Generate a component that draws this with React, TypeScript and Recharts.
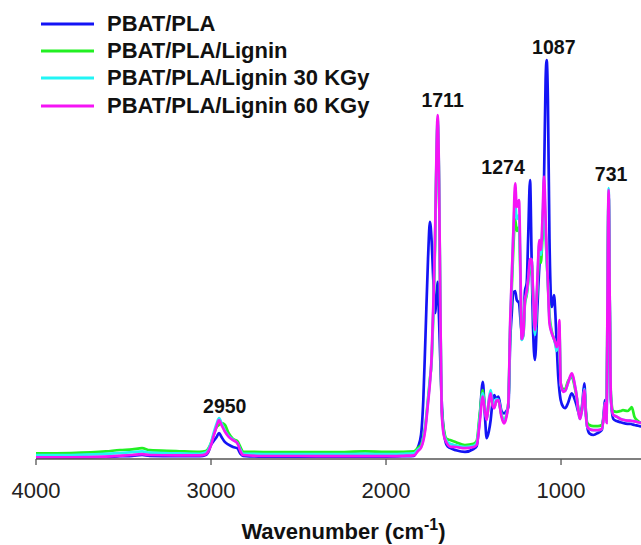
import { LineChart, Line, XAxis, YAxis, Legend, Label, ReferenceDot } from 'recharts';

// wavenumber (cm-1) from left to right
const wavenumbers = [
  4000, 3800, 3600, 3520, 3450, 3394, 3350, 3200, 3063, 3030, 3017, 3000, 2985, 2968, 2954, 2940, 2920, 2900, 2874, 2850, 2830, 2817, 2700, 2500, 2300, 2120, 2000, 1900, 1840,
  1817, 1800, 1787, 1775, 1760, 1749, 1740, 1730, 1720, 1711, 1705, 1697, 1690, 1682, 1670, 1653,
  1634, 1600, 1549, 1500, 1482, 1465, 1447, 1435, 1425, 1412, 1402, 1392, 1381, 1370, 1358, 1340, 1326, 1312, 1301,
  1290, 1282, 1273, 1262, 1253, 1240, 1232, 1225, 1215, 1206, 1196, 1188, 1177, 1168, 1160, 1149, 1135, 1124, 1115, 1106, 1097, 1088, 1082, 1075, 1066, 1053, 1040, 1032, 1025, 1015, 1010, 1002,
  987, 977, 960, 939, 915, 891, 878, 867, 858, 850, 838, 815, 790, 767, 755, 749, 740, 735, 728, 722, 715, 701, 682, 660, 646, 620, 606, 596, 580, 560, 543,
];

const pbatPla = [
  0.004, 0.004, 0.005, 0.007, 0.008, 0.01, 0.008, 0.007, 0.007, 0.01, 0.016, 0.035, 0.045, 0.055, 0.065, 0.055, 0.042, 0.036, 0.03, 0.027, 0.012, 0.008, 0.006, 0.006, 0.006, 0.006, 0.006, 0.007, 0.008,
  0.03, 0.06, 0.147, 0.3, 0.5, 0.593, 0.55, 0.45, 0.365, 0.41, 0.443, 0.35, 0.25, 0.147, 0.07, 0.035,
  0.0275, 0.022, 0.018, 0.025, 0.0325, 0.1, 0.193, 0.11, 0.052, 0.07, 0.0975, 0.14, 0.16, 0.15, 0.156, 0.12, 0.114, 0.12, 0.13,
  0.3, 0.36, 0.415, 0.42, 0.3975, 0.39, 0.35, 0.318, 0.33, 0.42, 0.44, 0.55, 0.6975, 0.5, 0.33, 0.2475, 0.38, 0.48, 0.53, 0.56, 0.7, 0.95, 0.9975, 0.9, 0.55, 0.38, 0.41, 0.36, 0.289, 0.2, 0.175, 0.1475,
  0.13, 0.127, 0.14, 0.164, 0.14, 0.106, 0.14, 0.189, 0.12, 0.08, 0.064, 0.06, 0.065, 0.0725, 0.12, 0.1475, 0.1, 0.3, 0.66, 0.4, 0.15, 0.1, 0.095, 0.092, 0.09, 0.088, 0.088, 0.087, 0.085, 0.083, 0.081,
];

const pbatPlaLignin = [
  0.014, 0.015, 0.019, 0.0225, 0.024, 0.027, 0.022, 0.02, 0.018, 0.02, 0.025, 0.04, 0.06, 0.08, 0.085, 0.09, 0.085, 0.065, 0.05, 0.045, 0.028, 0.018, 0.0175, 0.0175, 0.017, 0.019, 0.018, 0.018, 0.019,
  0.028, 0.035, 0.055, 0.085, 0.15, 0.2, 0.24, 0.36, 0.53, 0.76, 0.84, 0.69, 0.39, 0.13, 0.075, 0.05,
  0.0475, 0.042, 0.035, 0.038, 0.045, 0.11, 0.1725, 0.13, 0.1, 0.14, 0.165, 0.14, 0.13, 0.145, 0.145, 0.11, 0.095, 0.11, 0.14,
  0.33, 0.42, 0.52, 0.6, 0.57, 0.58, 0.45, 0.3, 0.31, 0.39, 0.41, 0.44, 0.48, 0.49, 0.41, 0.315, 0.43, 0.52, 0.49, 0.56, 0.66, 0.56, 0.5, 0.44, 0.36, 0.32, 0.3, 0.29, 0.275, 0.3, 0.33, 0.19,
  0.175, 0.175, 0.195, 0.205, 0.165, 0.11, 0.13, 0.17, 0.115, 0.09, 0.085, 0.082, 0.082, 0.085, 0.11, 0.135, 0.1, 0.35, 0.66, 0.4, 0.16, 0.12, 0.118, 0.12, 0.122, 0.12, 0.125, 0.13, 0.105, 0.095, 0.09,
];

const lignin30 = [
  0.01, 0.01, 0.013, 0.015, 0.017, 0.019, 0.016, 0.014, 0.013, 0.016, 0.022, 0.04, 0.065, 0.088, 0.102, 0.09, 0.07, 0.058, 0.048, 0.04, 0.022, 0.013, 0.0125, 0.0125, 0.012, 0.013, 0.012, 0.013, 0.014,
  0.024, 0.03, 0.05, 0.08, 0.145, 0.195, 0.245, 0.37, 0.54, 0.77, 0.85, 0.695, 0.395, 0.125, 0.065, 0.045,
  0.038, 0.034, 0.03, 0.033, 0.04, 0.1, 0.165, 0.125, 0.1, 0.15, 0.1725, 0.145, 0.13, 0.15, 0.148, 0.11, 0.092, 0.11, 0.14,
  0.34, 0.44, 0.56, 0.64, 0.6, 0.61, 0.47, 0.2975, 0.31, 0.395, 0.415, 0.445, 0.49, 0.5, 0.415, 0.31, 0.44, 0.54, 0.51, 0.58, 0.68, 0.57, 0.5, 0.44, 0.35, 0.315, 0.3, 0.285, 0.27, 0.3, 0.335, 0.185,
  0.17, 0.17, 0.19, 0.21, 0.17, 0.1, 0.128, 0.175, 0.11, 0.08, 0.075, 0.072, 0.072, 0.075, 0.11, 0.14, 0.095, 0.36, 0.6775, 0.41, 0.15, 0.11, 0.106, 0.1, 0.098, 0.096, 0.096, 0.095, 0.094, 0.092, 0.09,
];

const lignin60 = [
  0.004, 0.004, 0.006, 0.008, 0.01, 0.012, 0.01, 0.009, 0.009, 0.012, 0.018, 0.035, 0.058, 0.082, 0.097, 0.085, 0.068, 0.056, 0.047, 0.04, 0.018, 0.01, 0.0075, 0.0075, 0.007, 0.007, 0.007, 0.008, 0.009,
  0.02, 0.028, 0.045, 0.075, 0.14, 0.19, 0.25, 0.38, 0.55, 0.78, 0.86, 0.7, 0.4, 0.12, 0.06, 0.04,
  0.031, 0.03, 0.027, 0.03, 0.035, 0.09, 0.156, 0.12, 0.0975, 0.145, 0.164, 0.135, 0.127, 0.145, 0.1475, 0.105, 0.089, 0.105, 0.14,
  0.35, 0.45, 0.56, 0.689, 0.63, 0.6475, 0.48, 0.3, 0.315, 0.3975, 0.42, 0.45, 0.5, 0.5, 0.42, 0.3225, 0.45, 0.5475, 0.5225, 0.6, 0.706, 0.6, 0.52, 0.44, 0.34, 0.315, 0.3, 0.29, 0.28, 0.3, 0.3475, 0.189,
  0.168, 0.17, 0.19, 0.214, 0.17, 0.1, 0.13, 0.1725, 0.11, 0.081, 0.075, 0.072, 0.072, 0.075, 0.11, 0.14, 0.09, 0.36, 0.6725, 0.41, 0.15, 0.11, 0.106, 0.1, 0.098, 0.096, 0.096, 0.095, 0.094, 0.092, 0.09,
];

const xTicks = [4000, 3000, 2000, 1000];
const peakLabels = ['2950', '1711', '1274', '1087', '731'];

const series = [
  { key: 'a', name: 'PBAT/PLA', values: pbatPla, color: '#1414f5' },
  { key: 'b', name: 'PBAT/PLA/Lignin', values: pbatPlaLignin, color: '#22f022' },
  { key: 'c', name: 'PBAT/PLA/Lignin 30 KGy', values: lignin30, color: '#22f5f5' },
  { key: 'd', name: 'PBAT/PLA/Lignin 60 KGy', values: lignin60, color: '#f514f5' },
];

// pixel nudges for the peak labels
const labelOffset: Record<string, [number, number]> = {
  '2950': [5, -5],
  '1711': [6, -8],
  '1274': [-10, -9],
  '1087': [8, -6],
  '731': [3, -7],
};

const FONT = '"Liberation Sans", Arial, Helvetica, sans-serif';

const rows = wavenumbers.map((wn, i) => {
  const row: Record<string, number> = { wn };
  series.forEach((s) => {
    row[s.key] = s.values[i];
  });
  return row;
});

// highest point of any spectrum close to a given wavenumber
function peakValue(wn: number) {
  let best = 0;
  wavenumbers.forEach((w, i) => {
    if (Math.abs(w - wn) <= 20) {
      series.forEach((s) => {
        best = Math.max(best, s.values[i]);
      });
    }
  });
  return best;
}

function LegendBox({ payload }: any) {
  return (
    <div style={{ fontFamily: FONT, fontWeight: 'bold', fontSize: 22, color: '#111' }}>
      {(payload || []).map((p: any) => (
        <div key={p.value} style={{ display: 'flex', alignItems: 'center', height: 27.3, whiteSpace: 'nowrap' }}>
          <svg width={53} height={4} style={{ marginRight: 13 }}>
            <line x1={0} y1={2} x2={53} y2={2} stroke={p.color} strokeWidth={3} />
          </svg>
          <span>{p.value}</span>
        </div>
      ))}
    </div>
  );
}

function AxisTitle(props: any) {
  const { x, y, width } = props.viewBox;
  return (
    <text x={x + width / 2 + 5} y={y + 80} textAnchor="middle" fontFamily={FONT} fontWeight="bold" fontSize={22} fill="#111">
      Wavenumber (cm
      <tspan dy={-9} fontSize={16}>-1</tspan>
      <tspan dy={9}>)</tspan>
    </text>
  );
}

export default function App() {
  return (
    <div style={{ width: 641, height: 545, position: 'relative', background: '#fff' }}>
      <style>{'body{margin:0}'}</style>
      <LineChart width={641} height={545} data={rows} margin={{ top: 19, right: 0, bottom: 0, left: 36 }}>
        <XAxis
          dataKey="wn"
          type="number"
          domain={[543, 4000]}
          reversed
          ticks={xTicks}
          height={86}
          tickSize={6}
          tickMargin={17}
          axisLine={{ stroke: '#555', strokeWidth: 1.3 }}
          tickLine={{ stroke: '#555', strokeWidth: 1.3 }}
          tick={{ fontSize: 22, fill: '#222', fontFamily: FONT }}
        >
          <Label content={AxisTitle} />
        </XAxis>
        <YAxis hide domain={[0, 1.1]} />
        <Legend
          layout="vertical"
          align="center"
          verticalAlign="middle"
          content={LegendBox}
          wrapperStyle={{ top: 10, left: 41, width: 'auto', height: 'auto' }}
        />
        {series.map((s) => (
          <Line
            key={s.key}
            type="monotone"
            dataKey={s.key}
            name={s.name}
            stroke={s.color}
            strokeWidth={2.7}
            dot={false}
            isAnimationActive={false}
          />
        ))}
        {peakLabels.map((t) => {
          const [dx, dy] = labelOffset[t];
          return (
            <ReferenceDot
              key={t}
              x={Number(t)}
              y={peakValue(Number(t))}
              r={0}
              ifOverflow="visible"
              shape={(p: any) => (
                <text x={p.cx + dx} y={p.cy + dy} textAnchor="middle" fontFamily={FONT} fontWeight="bold" fontSize={19.5} fill="#111">
                  {t}
                </text>
              )}
            />
          );
        })}
      </LineChart>
    </div>
  );
}
